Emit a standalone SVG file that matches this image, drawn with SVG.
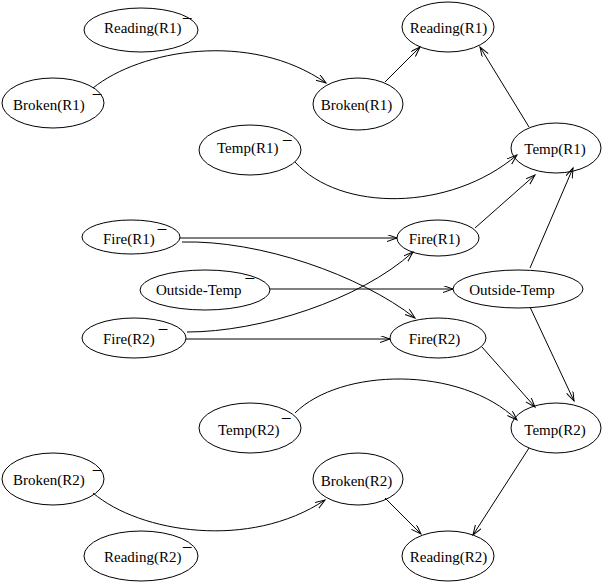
<svg xmlns="http://www.w3.org/2000/svg" width="602" height="582" viewBox="0 0 602 582">
<style>
.n ellipse{fill:none;stroke:#000;stroke-width:1}
text{font-family:"Liberation Serif","Times New Roman",serif;font-size:15px;fill:#000}
.m{font-size:17px}
.c{text-anchor:middle}
#edges path{fill:none;stroke:#000;stroke-width:1;marker-end:url(#arr)}
</style>
<defs>
<marker id="arr" markerUnits="userSpaceOnUse" markerWidth="12" markerHeight="9" refX="10" refY="3.5" orient="auto">
<path d="M0,0 L10,3.5 L0,7" fill="none" stroke="#000" stroke-width="1"/>
</marker>
</defs>
<rect width="602" height="582" fill="#fff"/>
<g id="edges">
<path d="M93,88 C140,50 250,30 326,83"/>
<path d="M385,82 L420,47"/>
<path d="M529,127 L480,47"/>
<path d="M295,162 C340,212 450,212 517,155"/>
<path d="M475,228 L535,175"/>
<path d="M530,268 L573,168"/>
<path d="M180,238 L397,238"/>
<path d="M182,242 C260,240 360,275 415,318"/>
<path d="M270,289 L453,289"/>
<path d="M187,332 C260,332 360,300 413,252"/>
<path d="M186,339 L390,339"/>
<path d="M482,347 L535,407"/>
<path d="M530,307 L574,401"/>
<path d="M295,413 C340,368 460,365 517,420"/>
<path d="M93,493 C140,533 250,550 325,500"/>
<path d="M385,498 L421,534"/>
<path d="M529,448 L473,535"/>
</g>
<g id="reading_r1_prev" class="n"><ellipse cx="141" cy="30" rx="57" ry="22"/><text x="104" y="33">Reading(R1)<tspan class="m" dx="1.5" dy="-1.7">¯</tspan></text></g>
<g id="broken_r1_prev" class="n"><ellipse cx="53" cy="103" rx="51" ry="25"/><text x="13" y="110">Broken(R1)<tspan class="m" dx="8" dy="-3">¯</tspan></text></g>
<g id="reading_r1" class="n"><ellipse cx="448" cy="27" rx="46" ry="25"/><text class="c" x="448.5" y="33">Reading(R1)</text></g>
<g id="broken_r1" class="n"><ellipse cx="358" cy="104" rx="45" ry="26"/><text class="c" x="356.5" y="110">Broken(R1)</text></g>
<g id="temp_r1_prev" class="n"><ellipse cx="250" cy="150" rx="51" ry="25"/><text x="217" y="153">Temp(R1)<tspan class="m" dx="4.5" dy="0">¯</tspan></text></g>
<g id="temp_r1" class="n"><ellipse cx="556" cy="148" rx="45" ry="25"/><text class="c" x="555" y="154">Temp(R1)</text></g>
<g id="fire_r1_prev" class="n"><ellipse cx="131" cy="237" rx="49" ry="17"/><text x="103" y="244">Fire(R1)<tspan class="m" dx="3" dy="-1.7">¯</tspan></text></g>
<g id="fire_r1" class="n"><ellipse cx="438" cy="238" rx="41" ry="18"/><text class="c" x="434.5" y="244">Fire(R1)</text></g>
<g id="outside_temp_prev" class="n"><ellipse cx="205" cy="290" rx="65" ry="20"/><text x="156" y="295">Outside-Temp<tspan class="m" dx="4" dy="-3.7">¯</tspan></text></g>
<g id="outside_temp" class="n"><ellipse cx="518" cy="289" rx="65" ry="19"/><text class="c" x="512" y="295">Outside-Temp</text></g>
<g id="fire_r2_prev" class="n"><ellipse cx="134" cy="338" rx="52" ry="20"/><text x="103" y="344">Fire(R2)<tspan class="m" dx="4" dy="-1.7">¯</tspan></text></g>
<g id="fire_r2" class="n"><ellipse cx="438" cy="338" rx="48" ry="20"/><text class="c" x="434.5" y="344">Fire(R2)</text></g>
<g id="temp_r2_prev" class="n"><ellipse cx="250" cy="428" rx="51" ry="25"/><text x="218" y="435">Temp(R2)<tspan class="m" dx="2.5" dy="-3.7">¯</tspan></text></g>
<g id="temp_r2" class="n"><ellipse cx="556" cy="428" rx="45" ry="25"/><text class="c" x="555" y="435">Temp(R2)</text></g>
<g id="broken_r2_prev" class="n"><ellipse cx="53" cy="479" rx="51" ry="26"/><text x="13" y="485">Broken(R2)<tspan class="m" dx="8" dy="-1.7">¯</tspan></text></g>
<g id="broken_r2" class="n"><ellipse cx="358" cy="479" rx="45" ry="26"/><text class="c" x="356.5" y="486">Broken(R2)</text></g>
<g id="reading_r2_prev" class="n"><ellipse cx="141" cy="556" rx="57" ry="25"/><text x="104" y="562">Reading(R2)<tspan class="m" dx="1.5" dy="-1.7">¯</tspan></text></g>
<g id="reading_r2" class="n"><ellipse cx="448" cy="556" rx="46" ry="25"/><text class="c" x="448.5" y="562">Reading(R2)</text></g>
</svg>
